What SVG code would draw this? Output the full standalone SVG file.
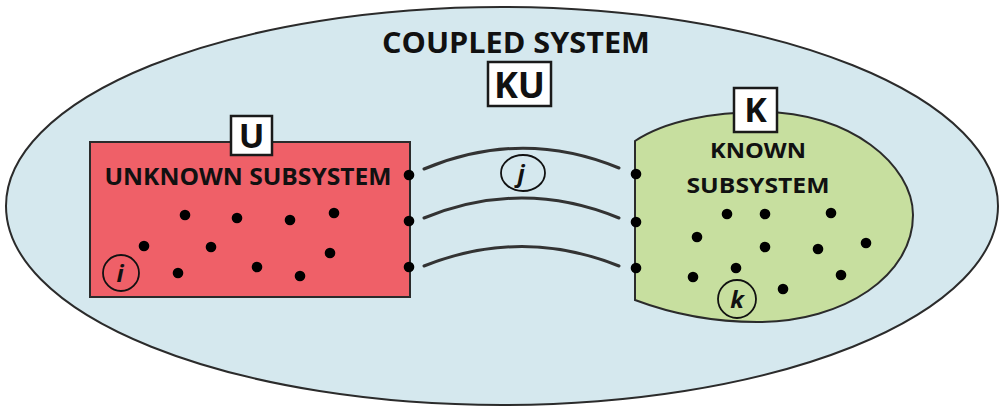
<svg xmlns="http://www.w3.org/2000/svg" width="1002" height="410" viewBox="0 0 1002 410">
  <style>
    .edge { stroke: #2b2b2b; stroke-width: 2; }
    .sys { fill: #d5e8ee; }
    .unk { fill: #ef6068; }
    .kno { fill: #c7df9f; }
    .title { font-family: "Open Sans", "Liberation Sans", sans-serif; font-weight: bold; fill: #111; }
    .tag { fill: #fff; stroke: #1a1a1a; stroke-width: 2.5; }
    .dot { fill: #000; }
    .idx { fill: none; stroke: #111; stroke-width: 1.8; }
    .idxt { font-family: "Open Sans", "Liberation Sans", sans-serif; font-style: italic; font-weight: bold; font-size: 24px; fill: #111; text-anchor: middle; }
    .link { fill: none; stroke: #333; stroke-width: 3; stroke-linecap: round; }
  </style>
  <defs>
    <circle id="pt" r="5.3" class="dot"/>
  </defs>
  <rect width="1002" height="410" fill="#fff"/>

  <!-- coupled system -->
  <g id="coupled">
    <ellipse cx="502" cy="206" rx="496" ry="199" class="sys edge"/>
    <text x="516" y="53" class="title" font-size="28" text-anchor="middle" textLength="268" lengthAdjust="spacingAndGlyphs">COUPLED SYSTEM</text>
    <rect x="488" y="62" width="63" height="44" class="tag"/>
    <text x="519.5" y="98" class="title" font-size="36" text-anchor="middle">KU</text>
  </g>

  <!-- unknown subsystem -->
  <g id="unknown">
    <rect x="90" y="142" width="320" height="155" class="unk edge"/>
    <rect x="231" y="116" width="41" height="39" class="tag"/>
    <text x="251.5" y="148" class="title" font-size="34" text-anchor="middle">U</text>
    <text x="248" y="185" class="title" font-size="23" text-anchor="middle" textLength="287" lengthAdjust="spacingAndGlyphs">UNKNOWN SUBSYSTEM</text>
    <use href="#pt" x="185" y="215"/>
    <use href="#pt" x="237" y="218"/>
    <use href="#pt" x="290" y="220"/>
    <use href="#pt" x="334" y="213"/>
    <use href="#pt" x="144" y="246"/>
    <use href="#pt" x="211" y="247"/>
    <use href="#pt" x="330" y="253"/>
    <use href="#pt" x="178" y="273"/>
    <use href="#pt" x="257" y="267"/>
    <use href="#pt" x="300" y="276"/>
    <use href="#pt" x="409" y="175"/>
    <use href="#pt" x="409" y="221"/>
    <use href="#pt" x="409" y="267"/>
    <circle cx="121" cy="273" r="18" class="idx"/>
    <text x="120" y="282" class="idxt">i</text>
  </g>

  <!-- known subsystem -->
  <g id="known">
    <path d="M635,141 C665,121 712,112 762,112 C850,112 913,165 913,215 C913,275 845,322 757,322 C707,322 667,312 635,300 Z" class="kno edge"/>
    <rect x="734" y="88" width="43" height="44" class="tag"/>
    <text x="755.5" y="122" class="title" font-size="34" text-anchor="middle">K</text>
    <text x="758" y="158" class="title" font-size="22" text-anchor="middle" textLength="96" lengthAdjust="spacingAndGlyphs">KNOWN</text>
    <text x="758" y="193" class="title" font-size="22" text-anchor="middle" textLength="143" lengthAdjust="spacingAndGlyphs">SUBSYSTEM</text>
    <use href="#pt" x="727" y="214"/>
    <use href="#pt" x="765" y="214"/>
    <use href="#pt" x="831" y="213"/>
    <use href="#pt" x="697" y="237"/>
    <use href="#pt" x="765" y="247"/>
    <use href="#pt" x="818" y="249"/>
    <use href="#pt" x="866" y="243"/>
    <use href="#pt" x="693" y="277"/>
    <use href="#pt" x="736" y="268"/>
    <use href="#pt" x="841" y="275"/>
    <use href="#pt" x="783" y="289"/>
    <use href="#pt" x="636" y="174"/>
    <use href="#pt" x="636" y="222"/>
    <use href="#pt" x="636" y="268"/>
    <circle cx="737" cy="299" r="19" class="idx"/>
    <text x="737" y="308" class="idxt">k</text>
  </g>

  <!-- couplings between the subsystems -->
  <g id="connectors">
    <path d="M424,169 Q522,128 619,168" class="link"/>
    <path d="M424,218 Q522,178 619,218" class="link"/>
    <path d="M424,266 Q522,227 619,266" class="link"/>
    <ellipse cx="523" cy="173" rx="22" ry="18" class="idx"/>
    <text x="521" y="182" class="idxt">j</text>
  </g>
</svg>
